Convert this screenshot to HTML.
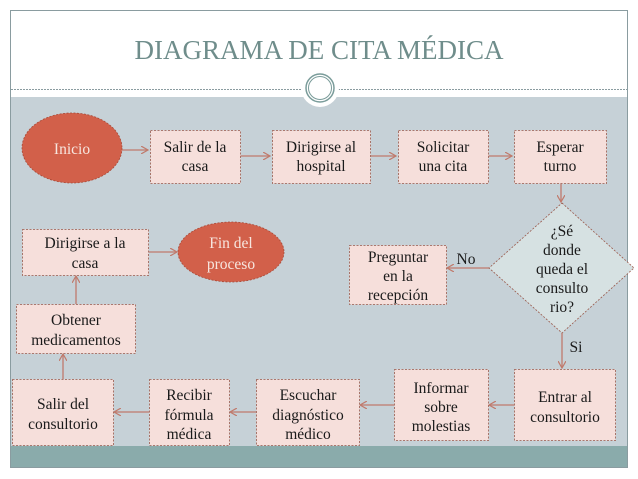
<!DOCTYPE html>
<html><head><meta charset="utf-8"><style>
html,body{margin:0;padding:0;background:#fff;}
svg{display:block;}
text{font-family:"Liberation Serif",serif;font-size:15.5px;fill:#1a1a1a;text-anchor:middle;}
.b{fill:#f6dfdb;stroke:#9a5a4c;stroke-width:0.8;stroke-dasharray:2,1.5;}
.e{fill:#d2604a;stroke:#a84a38;stroke-width:0.8;stroke-dasharray:2,1.5;}
.w{fill:#f7e6df;}
.l{stroke:#c07a6c;stroke-width:1.3;fill:none;}
</style></head><body>
<svg width="638" height="479" viewBox="0 0 638 479">
<defs><marker id="a" markerWidth="8" markerHeight="8" refX="7" refY="4" orient="auto" markerUnits="userSpaceOnUse"><path d="M0,0 L7,4 L0,8" fill="none" stroke="#c07a6c" stroke-width="1.2"/></marker></defs>
<rect x="10.5" y="10.5" width="617" height="457" fill="#fff" stroke="#8a9ca0"/>
<rect x="11" y="97" width="616" height="349" fill="#c6d1d7"/>
<rect x="11" y="446" width="616" height="21" fill="#8aabab"/>
<line x1="11" y1="89.5" x2="627" y2="89.5" stroke="#8a9ca0" stroke-dasharray="2,1"/>
<circle cx="320" cy="88" r="19" fill="#fff"/>
<circle cx="320" cy="88" r="14" fill="#fff" stroke="#7a9c9a" stroke-width="1.5"/>
<circle cx="320" cy="88" r="11.5" fill="none" stroke="#7a9c9a" stroke-width="1"/>
<text x="319" y="59" style="font-size:27px;fill:#6f8d8b">DIAGRAMA DE CITA MÉDICA</text>

<line class="l" x1="122" y1="150" x2="148" y2="150" marker-end="url(#a)"/>
<line class="l" x1="240" y1="156" x2="270" y2="156" marker-end="url(#a)"/>
<line class="l" x1="370" y1="156" x2="396" y2="156" marker-end="url(#a)"/>
<line class="l" x1="488" y1="156" x2="512" y2="156" marker-end="url(#a)"/>
<line class="l" x1="561" y1="183" x2="561" y2="202" marker-end="url(#a)"/>
<line class="l" x1="489" y1="268" x2="447" y2="268" marker-end="url(#a)"/>
<line class="l" x1="562" y1="333" x2="562" y2="368" marker-end="url(#a)"/>
<line class="l" x1="514" y1="405" x2="489" y2="405" marker-end="url(#a)"/>
<line class="l" x1="394" y1="405" x2="360" y2="405" marker-end="url(#a)"/>
<line class="l" x1="256" y1="412" x2="230" y2="412" marker-end="url(#a)"/>
<line class="l" x1="149" y1="412" x2="114" y2="412" marker-end="url(#a)"/>
<line class="l" x1="63" y1="379" x2="63" y2="354" marker-end="url(#a)"/>
<line class="l" x1="76" y1="304" x2="76" y2="276" marker-end="url(#a)"/>
<line class="l" x1="149" y1="252" x2="177" y2="252" marker-end="url(#a)"/>

<ellipse class="e" cx="72" cy="148" rx="50" ry="35"/>
<text class="w" x="72" y="154">Inicio</text>
<rect class="b" x="150.5" y="130.5" width="90" height="53"/>
<text x="195" y="152">Salir de la</text><text x="195" y="171">casa</text>
<rect class="b" x="272.5" y="130.5" width="98" height="53"/>
<text x="321" y="152">Dirigirse al</text><text x="321" y="171">hospital</text>
<rect class="b" x="398.5" y="130.5" width="90" height="53"/>
<text x="443" y="152">Solicitar</text><text x="443" y="171">una cita</text>
<rect class="b" x="514.5" y="130.5" width="92" height="53"/>
<text x="560" y="152">Esperar</text><text x="560" y="171">turno</text>

<polygon points="562,203 634,268 562,333 489,268" fill="#d6e1e2" stroke="#9a5a4c" stroke-width="0.8" stroke-dasharray="2,1.5"/>
<text x="562" y="236">¿Sé</text><text x="562" y="255">donde</text><text x="562" y="274">queda el</text><text x="562" y="293">consulto</text><text x="562" y="312">rio?</text>
<text x="466" y="264">No</text>
<text x="576" y="352">Si</text>

<rect class="b" x="349.5" y="245.5" width="97" height="59"/>
<text x="398" y="262">Preguntar</text><text x="398" y="281">en la</text><text x="398" y="300">recepción</text>

<rect class="b" x="22.5" y="229.5" width="126" height="46"/>
<text x="85" y="248">Dirigirse a la</text><text x="85" y="268">casa</text>
<ellipse class="e" cx="231" cy="252" rx="53" ry="30"/>
<text class="w" x="231" y="248">Fin del</text><text class="w" x="231" y="269">proceso</text>

<rect class="b" x="16.5" y="304.5" width="119" height="49"/>
<text x="76" y="325">Obtener</text><text x="76" y="345">medicamentos</text>

<rect class="b" x="12.5" y="379.5" width="101" height="66"/>
<text x="63" y="409">Salir del</text><text x="63" y="429">consultorio</text>
<rect class="b" x="149.5" y="379.5" width="80" height="66"/>
<text x="189" y="400">Recibir</text><text x="189" y="420">fórmula</text><text x="189" y="439">médica</text>
<rect class="b" x="256.5" y="379.5" width="103" height="66"/>
<text x="308" y="400">Escuchar</text><text x="308" y="420">diagnóstico</text><text x="308" y="439">médico</text>
<rect class="b" x="394.5" y="369.5" width="94" height="71"/>
<text x="441" y="393">Informar</text><text x="441" y="412">sobre</text><text x="441" y="431">molestias</text>
<rect class="b" x="514.5" y="369.5" width="101" height="71"/>
<text x="565" y="402">Entrar al</text><text x="565" y="422">consultorio</text>
</svg>
</body></html>
